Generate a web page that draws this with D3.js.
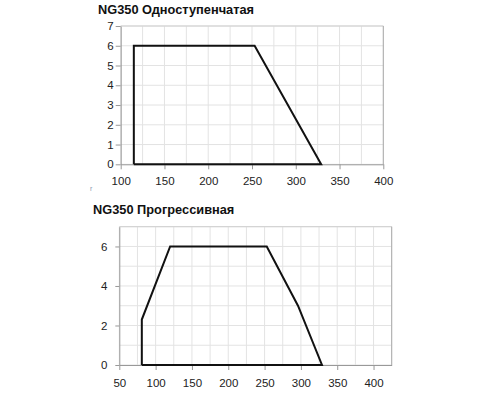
<!DOCTYPE html>
<html>
<head>
<meta charset="utf-8">
<script src="https://cdn.jsdelivr.net/npm/d3@7"></script>
<style>
  body { margin: 0; background: #fff; }
  text { font-family: "Liberation Sans", Arial, sans-serif; }
</style>
</head>
<body>
<div class="chart"></div>
<script>
// chart 1 - single stage
var title1 = 'NG350 Одноступенчатая';
var pts1 = [[115, 0], [115, 6], [253, 6], [329, 0], [115, 0]];
var xTicks1 = [100, 150, 200, 250, 300, 350, 400];
var yTicks1 = [0, 1, 2, 3, 4, 5, 6, 7];

// chart 2 - progressive
var title2 = 'NG350 Прогрессивная';
var pts2 = [[81, 0], [81, 2.3], [120, 6], [253, 6], [296, 3], [329, 0], [81, 0]];
var xTicks2 = [50, 100, 150, 200, 250, 300, 350, 400];
var yTicks2 = [0, 2, 4, 6];

var svg = d3.select('.chart')
	.append('svg')
	.attr('width', 500)
	.attr('height', 400);

function drawChart(cfg) {
	var x = d3.scaleLinear().domain(cfg.xDomain).range(cfg.xRange);
	var y = d3.scaleLinear().domain(cfg.yDomain).range(cfg.yRange);
	var g = svg.append('g');

	// grid
	g.selectAll('.vgrid')
		.data(d3.range(cfg.xDomain[0], cfg.xDomain[1] + 1, 25))
		.enter().append('line')
		.attr('x1', function(d) { return x(d); })
		.attr('x2', function(d) { return x(d); })
		.attr('y1', y(cfg.yDomain[0]))
		.attr('y2', y(cfg.yDomain[1]))
		.style('stroke', '#e3e3e3');
	g.selectAll('.hgrid')
		.data(d3.range(cfg.yDomain[0], cfg.yDomain[1] + 1, 1))
		.enter().append('line')
		.attr('y1', function(d) { return y(d); })
		.attr('y2', function(d) { return y(d); })
		.attr('x1', x(cfg.xDomain[0]))
		.attr('x2', x(cfg.xDomain[1]))
		.style('stroke', '#e3e3e3');

	// frame top / right
	g.append('line')
		.attr('x1', x(cfg.xDomain[0])).attr('x2', x(cfg.xDomain[1]))
		.attr('y1', y(cfg.yDomain[1])).attr('y2', y(cfg.yDomain[1]))
		.style('stroke', '#cfcfcf');
	g.append('line')
		.attr('x1', x(cfg.xDomain[1])).attr('x2', x(cfg.xDomain[1]))
		.attr('y1', y(cfg.yDomain[0])).attr('y2', y(cfg.yDomain[1]))
		.style('stroke', '#aaa');

	var xAxis = d3.axisBottom(x)
		.tickValues(cfg.xTicks)
		.tickFormat(d3.format('d'))
		.tickSize(5)
		.tickSizeOuter(0)
		.tickPadding(cfg.xPad);
	var yAxis = d3.axisLeft(y)
		.tickValues(cfg.yTicks)
		.tickFormat(d3.format('d'))
		.tickSize(cfg.yTick)
		.tickSizeOuter(0)
		.tickPadding(cfg.yPad);

	var gx = g.append('g')
		.attr('transform', 'translate(0,' + y(cfg.yDomain[0]) + ')')
		.call(xAxis);
	var gy = g.append('g')
		.attr('transform', 'translate(' + x(cfg.xDomain[0]) + ',0)')
		.call(yAxis);

	[gx, gy].forEach(function(a) {
		a.select('.domain').style('stroke', '#999');
		a.selectAll('.tick line').style('stroke', '#999');
		a.selectAll('.tick text')
			.style('font-size', '11.5px')
			.style('fill', '#222');
	});

	var line = d3.line()
		.x(function(d) { return x(d[0]); })
		.y(function(d) { return y(d[1]); });

	g.append('path')
		.datum(cfg.pts)
		.attr('d', line)
		.style('fill', 'none')
		.style('stroke', '#111')
		.style('stroke-width', 2)
		.style('stroke-linejoin', 'miter');

	g.append('text')
		.attr('x', cfg.titleX)
		.attr('y', cfg.titleY)
		.style('font-size', '12.8px')
		.style('font-weight', 'bold')
		.style('fill', '#111')
		.text(cfg.title);
}

drawChart({
	title: title1, titleX: 98, titleY: 14,
	pts: pts1, xTicks: xTicks1, yTicks: yTicks1,
	xDomain: [100, 400], yDomain: [0, 7],
	xRange: [120.7, 383.3], yRange: [164.3, 26],
	xPad: 8, yTick: 5, yPad: 2
});

drawChart({
	title: title2, titleX: 93, titleY: 213.5,
	pts: pts2, xTicks: xTicks2, yTicks: yTicks2,
	xDomain: [50, 425], yDomain: [0, 7],
	xRange: [119.3, 391.7], yRange: [365, 226.7],
	xPad: 9, yTick: 4, yPad: 8
});

// stray mark left in the scan
svg.append('text')
	.attr('x', 90)
	.attr('y', 191)
	.style('font-size', '7px')
	.style('fill', '#8a9bb0')
	.text('r');
</script>
</body>
</html>
